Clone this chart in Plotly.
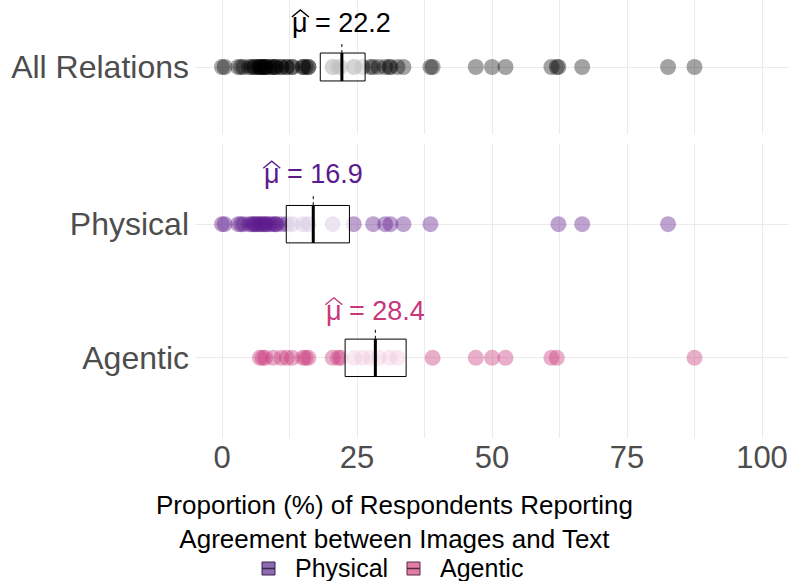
import plotly.graph_objects as go

# ---------------- data ----------------
categories = ["All Relations", "Physical", "Agentic"]
physical = [0, 0.5, 3, 3.5, 4, 5, 5.5, 6, 6, 6.5, 7, 7, 7.5, 8, 8, 8.5, 9, 9.5,
            10, 10, 11, 12, 13, 15, 16, 20.5, 24.4, 28, 30.2, 31.2, 33.6, 38.6,
            62.3, 66.7, 82.6]
agentic = [7, 7.5, 8, 9.5, 11, 12, 13, 15, 15.5, 16, 20.5, 21.5, 22, 24.5, 26,
           27.5, 29, 31, 32.5, 39, 47, 50, 52.5, 61, 62, 87.5]
all_relations = physical + agentic
means = [22.2, 16.9, 28.4]
ci_low = [18.2, 11.9, 22.8]
ci_high = [26.5, 23.6, 34.1]
x_ticks = [0, 25, 50, 75, 100]
legend_labels = ["Physical", "Agentic"]

# ---------------- styling ----------------
FONT = "Liberation Sans, Arial, Helvetica, sans-serif"
point_colors = ["#000000", "#5c1a8c", "#c7377a"]
text_colors = ["#000000", "#5c1a8c", "#c7377a"]
point_opacity = [0.36, 0.4, 0.4]
key_fill = ["#8e6bb0", "#e07ea8"]
key_line = ["#3b2352", "#5a2a3e"]

W, H = 789, 581
ML, MR, MT, MB = 195, 0, 0, 143
PW, PH = W - ML - MR, H - MT - MB


def px(xp):
    return (xp - ML) / PW


def py(yp):
    return (MT + PH - yp) / PH


series = [all_relations, physical, agentic]
rows = [("y2", 1), ("y", 2), ("y", 1)]
half_box = [0.125, 0.14, 0.14]
box_px = [14, 19, 19]
label_shift = [44, 50, 47]
LABEL_SIZE = 27

fig = go.Figure()
for i, cat in enumerate(categories):
    yref, yv = rows[i]
    xa = "x2" if yref == "y2" else "x"
    fig.add_trace(go.Scatter(
        x=series[i], y=[yv] * len(series[i]), mode="markers",
        xaxis=xa, yaxis=yref, name=cat, showlegend=False,
        marker=dict(size=16, color=point_colors[i], opacity=point_opacity[i],
                    line=dict(width=0)),
        hoverinfo="x"))

shapes = []
annotations = []
for i, cat in enumerate(categories):
    yref, yv = rows[i]
    xa = "x2" if yref == "y2" else "x"
    hb = half_box[i]
    shapes.append(dict(type="rect", xref=xa, yref=yref, x0=ci_low[i], x1=ci_high[i],
                       y0=yv - hb, y1=yv + hb, fillcolor="rgba(255,255,255,0.72)",
                       line=dict(color="black", width=1), layer="above"))
    shapes.append(dict(type="line", xref=xa, yref=yref, x0=means[i], x1=means[i],
                       y0=yv - hb, y1=yv + hb, line=dict(color="black", width=3),
                       layer="above"))
    bp = box_px[i]
    shapes.append(dict(type="line", xref=xa, yref=yref, x0=means[i], x1=means[i],
                       ysizemode="pixel", yanchor=yv, y0=bp, y1=bp + 11,
                       line=dict(color="black", width=1, dash="dot"), layer="above"))
    ls = label_shift[i]
    annotations.append(dict(xref=xa, yref=yref, x=means[i], y=yv, yshift=ls,
                            text=f"\u03bc = {means[i]:.1f}", showarrow=False,
                            xanchor="center", yanchor="middle",
                            font=dict(size=LABEL_SIZE, color=text_colors[i], family=FONT)))
    # wide hat over mu (pixel-sized path anchored at the mean)
    cx = -41.5
    base = ls + 6
    apex = ls + 13
    shapes.append(dict(type="path", xref=xa, yref=yref, xsizemode="pixel",
                       ysizemode="pixel", xanchor=means[i], yanchor=yv,
                       path=f"M {cx-8.5},{base} L {cx},{apex} L {cx+8.5},{base}",
                       line=dict(color=text_colors[i], width=1.4), layer="above"))

# x-axis title (centred on whole figure)
annotations.append(dict(xref="paper", yref="paper", x=px(394.5), y=py(522),
                        text="Proportion (%) of Respondents Reporting<br>Agreement between Images and Text",
                        showarrow=False, xanchor="center", yanchor="middle",
                        font=dict(size=26, color="black", family=FONT)))

# manual legend (crossbar keys)
key_x = [262, 407]
text_x = [293, 438]
ky0, ky1 = 562, 575
for j, lab in enumerate(legend_labels):
    shapes.append(dict(type="rect", xref="paper", yref="paper",
                       x0=px(key_x[j]), x1=px(key_x[j] + 13), y0=py(ky1), y1=py(ky0),
                       fillcolor=key_fill[j], line=dict(color=key_line[j], width=1)))
    shapes.append(dict(type="line", xref="paper", yref="paper",
                       x0=px(key_x[j]), x1=px(key_x[j] + 13),
                       y0=py((ky0 + ky1) / 2), y1=py((ky0 + ky1) / 2),
                       line=dict(color=key_line[j], width=1.5)))
    annotations.append(dict(xref="paper", yref="paper", x=px(text_x[j]), y=py(568),
                            text=lab, showarrow=False, xanchor="left", yanchor="middle",
                            font=dict(size=25, color="black", family=FONT)))

grid = "#ebebeb"
xcommon = dict(range=[-5, 105], tickvals=x_ticks, showgrid=True, gridcolor=grid,
               gridwidth=1, zeroline=False, showline=False, ticks="", automargin=False,
               minor=dict(dtick=12.5, tick0=0, showgrid=True, gridcolor=grid, gridwidth=1))

top_domain = [py(134), 1.0]
bot_domain = [0.0, py(144)]
ycommon = dict(showgrid=True, gridcolor=grid, zeroline=False, showline=False,
               ticks="", automargin=False, ticklabelstandoff=5,
               tickfont=dict(size=32, color="#4d4d4d", family=FONT))

fig.update_layout(
    width=W, height=H, margin=dict(l=ML, r=MR, t=MT, b=MB, autoexpand=False),
    paper_bgcolor="white", plot_bgcolor="white",
    font=dict(family=FONT),
    xaxis=dict(**xcommon, anchor="y", domain=[0, 1], ticklabelstandoff=-2,
               tickfont=dict(size=31, color="#4d4d4d", family=FONT)),
    xaxis2=dict(**xcommon, anchor="y2", domain=[0, 1], showticklabels=False, matches="x"),
    yaxis=dict(**ycommon, domain=bot_domain, range=[0.4, 2.6], tickvals=[1, 2],
               ticktext=[categories[2], categories[1]]),
    yaxis2=dict(**ycommon, domain=top_domain, range=[0.4, 1.6], tickvals=[1],
                ticktext=[categories[0]]),
    shapes=shapes, annotations=annotations, showlegend=False,
)

fig.write_html("out.html", config={"displayModeBar": False},
               post_script="document.body.style.margin='0';document.body.style.overflow='hidden';")
